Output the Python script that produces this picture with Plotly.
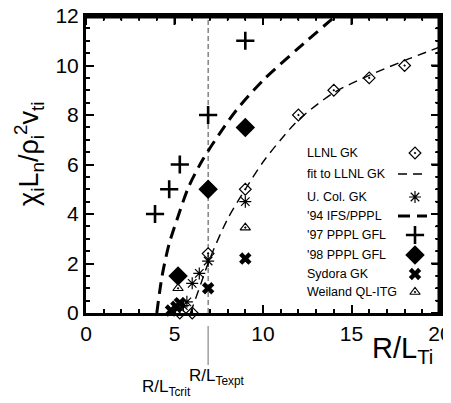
import plotly.graph_objects as go

# ---------------- data ----------------
llnl_x = [5.3, 6.0, 6.9, 9, 12, 14, 16, 18]
llnl_y = [0, 0, 2.4, 5, 8, 9, 9.5, 10]

fit_llnl_x = [5.9, 6.5, 7.0, 8.0, 9.0, 10.0, 11.0, 12.0, 14.0, 16.0, 18.0, 20.0]
fit_llnl_y = [0.0, 1.2, 2.2, 3.8, 5.0, 6.1, 7.0, 7.8, 8.9, 9.6, 10.2, 10.75]

ucol_x = [5.5, 5.7, 6.0, 6.4, 6.9, 9]
ucol_y = [0.3, 0.45, 1.2, 1.6, 2.1, 4.5]

ifs_x = [4.0, 4.3, 4.7, 5.2, 5.8, 6.6, 7.5, 8.5, 10.0, 12.0, 14.1]
ifs_y = [0.0, 1.5, 2.8, 3.9, 5.1, 6.2, 7.2, 8.2, 9.4, 10.7, 12.0]

pppl97_x = [3.9, 4.7, 5.3, 6.9, 9]
pppl97_y = [4, 5, 6, 8, 11]

pppl98_x = [5.2, 6.9, 9]
pppl98_y = [1.5, 5, 7.5]

sydora_x = [4.8, 5.1, 5.3, 6.9, 9]
sydora_y = [0.1, 0.25, 0.4, 1.0, 2.2]

weiland_x = [5.2, 9]
weiland_y = [1.0, 3.45]

r_lt_crit = 4.0
r_lt_expt = 6.9

x_range = [0, 20]
y_range = [0, 12]
x_ticks = [0, 5, 10, 15, 20]
y_ticks = [0, 2, 4, 6, 8, 10, 12]
x_minor = [v for v in range(21) if v % 5]
y_minor = [v / 2 for v in range(25) if v % 4]

legend_labels = ["LLNL GK", "fit to LLNL GK", "U. Col. GK", "'94 IFS/PPPL",
                 "'97 PPPL GFL", "'98 PPPL GFL", "Sydora GK", "Weiland QL-ITG"]

# ---------------- layout geometry ----------------
OFF = 8                      # page body margin in the browser
W, H = 451 - OFF, 403 - OFF
PLOT_L, PLOT_T, PLOT_R, PLOT_B = 86, 16, 440, 313   # plot area in page pixels
ML, MT = PLOT_L - OFF, PLOT_T - OFF
PW, PH = PLOT_R - PLOT_L, PLOT_B - PLOT_T
MR, MB = W - ML - PW, H - MT - PH
FONT = "Liberation Sans, Arial, Helvetica, sans-serif"


def px2paper(px, py):
    return (px - PLOT_L) / PW, (PLOT_B - py) / PH


def px2data(px, py):
    fx, fy = px2paper(px, py)
    return (x_range[0] + fx * (x_range[1] - x_range[0]),
            y_range[0] + fy * (y_range[1] - y_range[0]))


fig = go.Figure()

styles = {
    "LLNL GK": dict(mode="markers", marker=dict(symbol="diamond-open-dot", size=9, color="black", line=dict(width=1.2))),
    "fit to LLNL GK": dict(mode="lines", line=dict(color="black", width=1.4, dash="9px,6px")),
    "U. Col. GK": dict(mode="markers", marker=dict(symbol="asterisk-open", size=10, color="black", line=dict(width=1.2))),
    "'94 IFS/PPPL": dict(mode="lines", line=dict(color="black", width=3, dash="12px,7px")),
    "'97 PPPL GFL": dict(mode="markers", marker=dict(symbol="cross-thin-open", size=13, color="black", line=dict(width=2.6))),
    "'98 PPPL GFL": dict(mode="markers", marker=dict(symbol="diamond", size=15, color="black")),
    "Sydora GK": dict(mode="markers", marker=dict(symbol="x", size=11, color="black", line=dict(width=0))),
    "Weiland QL-ITG": dict(mode="markers", marker=dict(symbol="triangle-up-open-dot", size=9, color="black", line=dict(width=1.2))),
}

series = {
    "fit to LLNL GK": (fit_llnl_x, fit_llnl_y),
    "'94 IFS/PPPL": (ifs_x, ifs_y),
    "LLNL GK": (llnl_x, llnl_y),
    "U. Col. GK": (ucol_x, ucol_y),
    "'97 PPPL GFL": (pppl97_x, pppl97_y),
    "'98 PPPL GFL": (pppl98_x, pppl98_y),
    "Weiland QL-ITG": (weiland_x, weiland_y),
    "Sydora GK": (sydora_x, sydora_y),
}

for name, (xs, ys) in series.items():
    st = dict(styles[name])
    is_line = st["mode"] == "lines"
    if is_line:
        st["line"] = dict(st["line"], shape="spline", smoothing=0.8)
    fig.add_trace(go.Scatter(x=xs, y=ys, name=name, showlegend=False, cliponaxis=is_line, **st))

# threshold triangles just below the axis
fig.add_trace(go.Scatter(x=[r_lt_crit, r_lt_expt], y=[-0.38, -0.38], mode="markers",
                         marker=dict(symbol="triangle-up", size=12, color="black"),
                         cliponaxis=False, showlegend=False))

# vertical dashed line at experimental gradient
fig.add_shape(type="line", xref="x", yref="y", x0=r_lt_expt, x1=r_lt_expt, y0=y_range[0], y1=y_range[1],
              line=dict(color="#444", width=1, dash="5px,3px"), layer="below")
# gray pointer line below the axis
fig.add_shape(type="line", xref="x", yref="paper", x0=r_lt_expt, x1=r_lt_expt,
              y0=px2paper(0, 326)[1], y1=px2paper(0, 365)[1],
              line=dict(color="#888", width=1.2))

# plot frame (top and right edges) and the mirrored ticks, drawn as paper lines
TOP_Y = 1 - 1.0 / PH
RIGHT_X = 1 - 1.0 / PW
fig.add_shape(type="line", xref="paper", yref="paper", x0=0, x1=RIGHT_X + 1.5 / PW, y0=TOP_Y, y1=TOP_Y,
              line=dict(color="black", width=3))
fig.add_shape(type="line", xref="paper", yref="paper", x0=RIGHT_X, x1=RIGHT_X, y0=0, y1=TOP_Y,
              line=dict(color="black", width=3))
for xv in x_ticks + x_minor:
    fx = (xv - x_range[0]) / (x_range[1] - x_range[0])
    ln = (8 if xv in x_ticks else 4) / PH
    fig.add_shape(type="line", xref="paper", yref="paper", x0=fx, x1=fx, y0=TOP_Y, y1=TOP_Y - ln,
                  line=dict(color="black", width=2 if xv in x_ticks else 1.5))
for yv in y_ticks + y_minor:
    fy = (yv - y_range[0]) / (y_range[1] - y_range[0])
    ln = (8 if yv in y_ticks else 4) / PW
    fig.add_shape(type="line", xref="paper", yref="paper", x0=RIGHT_X, x1=RIGHT_X - ln, y0=fy, y1=fy,
                  line=dict(color="black", width=2 if yv in y_ticks else 1.5))

# custom legend (text left, key right)
legend_rows_py = [153, 174, 197, 216, 235, 255, 274, 292]
text_px, key_px = 305, 415
for label, py in zip(legend_labels, legend_rows_py):
    tx, ty = px2paper(text_px, py)
    fig.add_annotation(x=tx, y=ty, xref="paper", yref="paper", text=label, showarrow=False,
                       xanchor="left", yanchor="middle", font=dict(family=FONT, size=12.5, color="black"))
    st = styles[label]
    if st["mode"] == "lines":
        x0, ky = px2data(key_px - 17, py)
        x1, _ = px2data(key_px + 12, py)
        fig.add_trace(go.Scatter(x=[x0, x1], y=[ky, ky], mode="lines",
                                 line=st["line"], showlegend=False))
    else:
        kx, ky = px2data(key_px, py)
        fig.add_trace(go.Scatter(x=[kx], y=[ky], mode="markers",
                                 marker=st["marker"], showlegend=False, cliponaxis=False))

# axis titles as annotations
ax_, ay_ = px2paper(402, 350)
fig.add_annotation(x=ax_, y=ay_, xref="paper", yref="paper", showarrow=False,
                   text="R/L<sub>Ti</sub>", font=dict(family=FONT, size=29, color="black"),
                   xanchor="center", yanchor="middle")
yx, yy = px2paper(29, 154)
fig.add_annotation(x=yx, y=yy, xref="paper", yref="paper", showarrow=False, textangle=-90,
                   text="χ<sub>i</sub>L<sub>n</sub>/ρ<sub>i</sub><sup>2</sup>v<sub>ti</sub>",
                   font=dict(family=FONT, size=27, color="black"),
                   xanchor="center", yanchor="middle")

# threshold labels
lx, ly = px2paper(217, 364)
fig.add_annotation(x=lx, y=ly, xref="paper", yref="paper", showarrow=False,
                   text="R/L<sub>Texpt</sub>", font=dict(family=FONT, size=17, color="black"),
                   xanchor="center", yanchor="top")
lx, ly = px2paper(166, 375)
fig.add_annotation(x=lx, y=ly, xref="paper", yref="paper", showarrow=False,
                   text="R/L<sub>Tcrit</sub>", font=dict(family=FONT, size=17, color="black"),
                   xanchor="center", yanchor="top")

axis_common = dict(showline=True, linecolor="black", linewidth=3, mirror="allticks",
                   ticks="inside", ticklen=8, tickwidth=2, tickcolor="black",
                   showgrid=False, zeroline=False, automargin=False,
                   ticklabeloverflow="allow",
                   tickfont=dict(family=FONT, size=21, color="black"))
xminor = dict(ticks="inside", dtick=1, ticklen=4, tickwidth=1.5, tickcolor="black", showgrid=False)
yminor = dict(ticks="inside", dtick=0.5, ticklen=4, tickwidth=1.5, tickcolor="black", showgrid=False)

fig.update_layout(
    width=W, height=H, margin=dict(l=ML, r=MR, t=MT, b=MB, autoexpand=False),
    paper_bgcolor="white", plot_bgcolor="white", showlegend=False,
    font=dict(family=FONT, color="black"),
    xaxis=dict(range=x_range, tickvals=x_ticks, ticktext=[str(v) for v in x_ticks],
               minor=xminor, **axis_common),
    yaxis=dict(range=y_range, tickvals=y_ticks, ticktext=[str(v) for v in y_ticks],
               minor=yminor, **axis_common),
)

fig.write_html("out.html")
